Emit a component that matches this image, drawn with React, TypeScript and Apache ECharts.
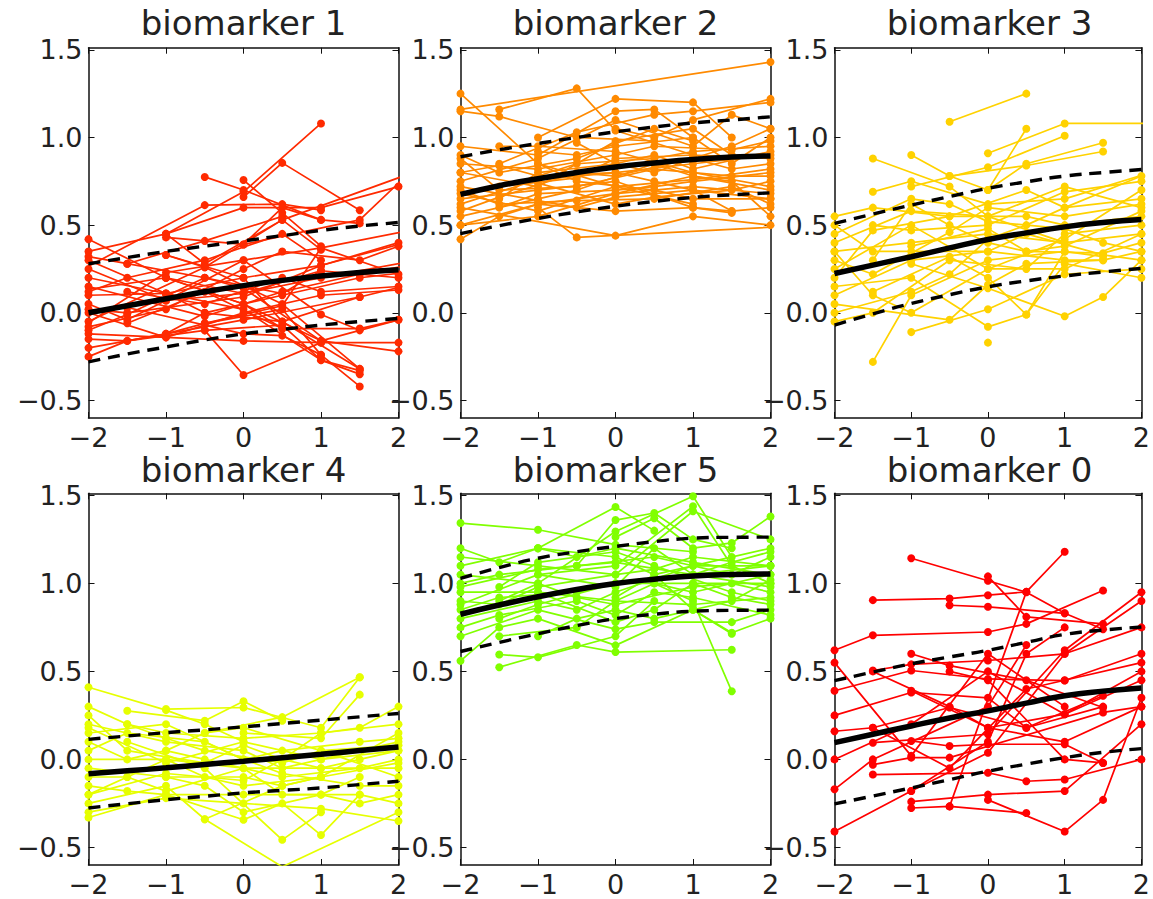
import React, { useEffect, useRef } from "react";
import * as echarts from "echarts";

// Shared axis ticks
const xTicks = [-2, -1, 0, 1, 2];
const yTicks = [-0.5, 0, 0.5, 1, 1.5];
const fitX = [-2, -1.5, -1, -0.5, 0, 0.5, 1, 1.5, 2];

// biomarker 1
const bm1Tracks: number[][][] = [
  [[-2.5, 0.15], [-0.5, 0.614], [0.5, 0.62], [1, 0.585]],
  [[0, 0.66], [0.5, 0.855], [1.5, 0.585]],
  [[-0.5, 0.775], [0, 0.7], [1, 0.53], [1.5, 0.51]],
  [[0, 0.757], [0.5, 0.57], [1, 0.38]],
  [[-1, 0.45], [0, 0.69], [1, 1.08]],
  [[-2, 0.42], [-1, 0.2], [0, 0.05], [0.5, -0.09]],
  [[-2, 0.32], [-1.5, 0.28], [-0.5, 0.41], [0.5, 0.55]],
  [[-1, 0.43], [0, 0.39], [1.5, 0.53], [2.5, 0.95]],
  [[-1, 0.33], [-0.5, 0.26], [0.5, 0.53], [2.5, 0.85]],
  [[-2.5, -0.2], [-1, 0.23], [0, 0.3], [1, 0.37], [2.5, 0.5]],
  [[-2, 0.1], [-1, 0.11], [0, 0.2], [1, 0.27], [2, 0.4]],
  [[-2, -0.1], [-1.5, -0.01], [-0.5, 0.2], [0.5, 0.11], [1, 0.24]],
  [[-2, 0.05], [-1.5, -0.04], [-1, 0.07], [0, 0.11], [1, 0.2], [2.5, 0.32]],
  [[-2, -0.15], [-1.5, -0.16], [-1, -0.12], [0, -0.04], [1.5, 0.09], [2.5, 0.2]],
  [[-2, 0.0], [-1, -0.14], [0, -0.16], [1, -0.17], [2, -0.17]],
  [[-0.5, -0.1], [0, -0.355], [1, -0.17]],
  [[-1, -0.12], [-0.5, -0.06], [0.5, 0.02], [1, -0.24], [1.5, -0.42]],
  [[-2, 0.2], [-1, 0.11], [0, 0.02], [1, -0.27], [1.5, -0.35]],
  [[-2, -0.05], [-0.5, 0.26], [0.5, 0.05], [1.5, -0.32]],
  [[-1.5, -0.06], [-0.5, 0.12], [0.5, -0.09], [1.5, -0.09], [2, -0.04]],
  [[-2, 0.25], [-1, 0.07], [0, 0.3], [1, -0.01], [1.5, -0.1]],
  [[-2.5, 0.1], [-1, 0.2], [0, 0.11], [1, 0.24], [2, 0.2]],
  [[-2, -0.2], [-1, -0.12], [-0.5, 0.0], [0.5, 0.1], [1.5, 0.2], [2.5, 0.25]],
  [[-2, 0.15], [-0.5, -0.02], [0.5, 0.12], [1.5, 0.22], [2.5, 0.3]],
  [[-2, 0.02], [-1.5, 0.0], [0, 0.09], [1, 0.27], [2.5, 0.45]],
  [[0, 0.39], [0.5, 0.6], [1, 0.53]],
  [[-1, 0.45], [-0.5, 0.28], [0.5, 0.53], [1, 0.36]],
  [[-2, -0.12], [-1, -0.14], [0, 0.0], [1, 0.1], [2, 0.13]],
  [[-0.5, -0.06], [0.5, 0.04], [1, 0.37], [2, 0.22]],
  [[-1.5, 0.28], [-0.5, 0.2], [0, 0.14], [1, -0.16], [2, -0.04]],
  [[-1, 0.33], [0, 0.2], [0.5, -0.05], [1.5, 0.09]],
  [[-2, -0.25], [-1.5, -0.16], [-0.5, -0.1], [0.5, -0.07], [1, -0.27], [1.5, -0.33]],
  [[-2, 0.3], [-1, 0.11], [-0.5, 0.0], [0.5, -0.05], [1.5, -0.32]],
  [[-1, 0.2], [0, 0.05], [1, -0.16], [2, -0.22]],
  [[-1.5, 0.03], [0, -0.12], [0.5, -0.13], [1, -0.24]],
  [[-2, 0.35], [-1, 0.45], [0, 0.6], [1, 0.6], [2, 0.72]],
  [[-2, -0.08], [-1, 0.02], [0, 0.25], [0.5, 0.35], [1.5, 0.3], [2, 0.38]],
  [[-1.5, 0.12], [-0.5, 0.05], [0.5, 0.2], [1, 0.12], [2, 0.15]],
  [[-2, 0.12], [-1.5, 0.2], [-0.5, 0.3], [0.5, 0.45], [1, 0.3]],
];
const bm1Mean = [0.0, 0.04, 0.08, 0.12, 0.155, 0.185, 0.21, 0.23, 0.245];
const bm1Upper = [0.28, 0.315, 0.35, 0.38, 0.41, 0.44, 0.47, 0.495, 0.515];
const bm1Lower = [-0.28, -0.235, -0.195, -0.155, -0.12, -0.095, -0.07, -0.05, -0.032];

// biomarker 2
const bm2Tracks: number[][][] = [
  [[-2, 1.16], [2, 1.43]],
  [[-1.5, 1.16], [-0.5, 1.28], [0, 1.04], [1, 0.9]],
  [[-2, 1.25], [-1, 0.85], [0, 0.72], [1, 0.62]],
  [[-2, 1.15], [-1.5, 1.12], [-0.5, 1.0], [0.5, 0.98]],
  [[-1, 1.0], [0, 1.22], [1, 1.2], [1.5, 1.0]],
  [[-2, 0.95], [-1, 0.9], [0, 1.15], [0.5, 1.16], [1, 1.0]],
  [[-1.5, 0.85], [-0.5, 1.03], [0.5, 1.13], [1, 1.15], [2, 1.2]],
  [[-2, 0.75], [-1, 0.88], [0, 1.1], [1, 0.95], [1.5, 1.13], [2, 1.05]],
  [[-1, 0.6], [-0.5, 0.43], [2.5, 0.5]],
  [[-2, 0.6], [0, 0.44], [1, 0.55], [2, 0.5]],
  [[-2, 0.42], [-1.5, 0.55], [-1, 0.62], [0, 0.58], [1, 0.6], [1.5, 0.57]],
  [[-2, 0.65], [-1, 0.7], [0, 0.75], [1, 0.6], [1.5, 0.58]],
  [[-2, 0.7], [-1.5, 0.62], [-0.5, 0.64], [0.5, 0.65], [1.5, 0.72], [2, 0.62]],
  [[-2, 0.55], [-1, 0.65], [-0.5, 0.7], [0.5, 0.85], [1, 0.78], [2, 0.7]],
  [[-2, 0.8], [-1.5, 0.84], [-1, 0.78], [0, 0.8], [1, 0.85], [2, 0.9]],
  [[-2, 0.85], [-1, 0.82], [0, 0.9], [0.5, 0.95], [1.5, 0.93], [2, 0.98]],
  [[-1.5, 0.6], [-1, 0.68], [0, 0.7], [0.5, 0.72], [1, 0.75], [2, 0.8]],
  [[-2, 0.5], [-1, 0.55], [0, 0.68], [1, 0.78], [1.5, 0.75], [2, 0.55]],
  [[-1.5, 0.72], [-0.5, 0.77], [0, 0.88], [1, 0.9], [2, 0.88]],
  [[-2, 0.62], [-1, 0.76], [0, 0.8], [0.5, 0.75], [1, 0.7], [2, 0.65]],
  [[-1, 0.92], [-0.5, 0.9], [0, 0.95], [1, 1.0], [1.5, 0.85], [2, 1.0]],
  [[-2, 0.9], [-1.5, 0.8], [-0.5, 0.88], [0.5, 1.05], [1, 0.98]],
  [[-1, 0.74], [0, 0.62], [0.5, 0.66], [1.5, 0.7], [2, 0.75]],
  [[-2, 0.72], [-1, 0.64], [-0.5, 0.6], [0, 0.66], [1, 0.7], [1.5, 0.58], [2, 0.6]],
  [[-1.5, 0.65], [-1, 0.8], [0, 0.85], [0.5, 0.9], [1, 0.82], [2, 0.92]],
  [[-2, 0.58], [-1.5, 0.66], [-0.5, 0.8], [0, 0.78], [1, 0.88], [1.5, 0.95], [2, 1.05]],
  [[0, 1.05], [0.5, 1.0], [1, 1.1], [2, 1.22]],
  [[-1.5, 0.95], [-1, 0.95], [0, 0.92], [1, 0.8], [2, 0.72]],
  [[-2, 0.68], [-1, 0.58], [0, 0.72], [1, 0.76], [2, 0.82]],
  [[-0.5, 0.97], [0, 0.85], [0.5, 0.8], [1, 0.88], [1.5, 0.82], [2, 0.85]],
  [[-1, 0.85], [-0.5, 0.75], [0.5, 0.7], [1, 0.65], [2, 0.65]],
  [[-2, 0.8], [-1, 0.72], [0, 0.98], [1, 1.05], [1.5, 0.9]],
  [[-2, 0.88], [-1.5, 0.7], [-0.5, 0.72], [0.5, 0.82], [1.5, 0.78], [2, 0.78]],
  [[-1, 0.78], [-0.5, 0.85], [0.5, 0.88], [1, 0.92], [2, 0.95]],
  [[-2, 0.5], [-1, 0.62], [0, 0.68], [1, 0.72], [2, 0.68]],
];
const bm2Mean = [0.675, 0.725, 0.765, 0.8, 0.832, 0.855, 0.875, 0.888, 0.895];
const bm2Upper = [0.89, 0.93, 0.966, 1.0, 1.032, 1.06, 1.083, 1.1, 1.118];
const bm2Lower = [0.452, 0.497, 0.538, 0.575, 0.608, 0.635, 0.658, 0.673, 0.684];

// biomarker 3
const bm3Tracks: number[][][] = [
  [[-0.5, 1.09], [0.5, 1.25]],
  [[-1.5, 0.88], [-0.5, 0.72], [0, 0.55], [1, 0.4]],
  [[-1, 0.9], [-0.5, 0.78], [0, 0.7], [0.5, 1.05]],
  [[0, 0.91], [1, 1.08], [2.5, 1.08]],
  [[-1, 0.72], [0, 0.83], [1, 1.01]],
  [[0, 0.7], [0.5, 0.85], [1.5, 0.97]],
  [[-0.5, 0.78], [0.5, 0.84], [1.5, 0.92]],
  [[-1.5, 0.69], [-1, 0.75], [0, 0.62], [1, 0.65], [2.5, 0.85]],
  [[-2, 0.4], [-1, 0.58], [0, 0.55], [1, 0.72], [2, 0.6]],
  [[-1.5, 0.5], [-1, 0.47], [0, 0.5], [1, 0.69], [2, 0.75]],
  [[-2, 0.2], [-1.5, 0.47], [-0.5, 0.55], [0.5, 0.55], [1, 0.5], [2, 0.55]],
  [[-2, 0.35], [-1, 0.4], [0, 0.45], [1, 0.4], [2, 0.45]],
  [[-1.5, -0.28], [-1, 0.1], [0, 0.3], [1, 0.35], [1.5, 0.32]],
  [[-1, -0.11], [0, 0.02], [1, 0.22], [2, 0.25]],
  [[-2, 0.05], [-0.5, -0.04], [0, 0.16], [0.5, 0.28], [1.5, 0.3]],
  [[-2, 0.15], [-1, 0.2], [0, -0.08], [0.5, -0.01], [1, 0.35]],
  [[-1, 0.28], [0, 0.14], [1, -0.02], [1.5, 0.09], [2, 0.3]],
  [[-2, -0.05], [-1.5, 0.0], [-0.5, 0.3], [0.5, 0.25], [1, 0.45], [2, 0.5]],
  [[-2, 0.5], [-1.5, 0.35], [-1, 0.35], [0, 0.35], [1, 0.3], [1.5, 0.3], [2, 0.35]],
  [[-2, 0.3], [-1.5, 0.22], [-0.5, 0.46], [0, 0.6], [1, 0.55], [2, 0.62]],
  [[-2, 0.0], [-1, 0.12], [-0.5, 0.22], [0, 0.42], [0.5, 0.5], [1, 0.6], [2, 0.78]],
  [[-1.5, 0.3], [-1, 0.62], [-0.5, 0.5], [0, 0.4], [0.5, 0.35], [1.5, 0.34], [2, 0.4]],
  [[-2, 0.25], [-1, 0.5], [0, 0.25], [1, 0.42], [2, 0.7]],
  [[-1.5, 0.12], [-0.5, 0.32], [0, 0.2], [0.5, -0.01], [1, 0.28], [2, 0.2]],
  [[-2, 0.45], [-1, 0.65], [-0.5, 0.62], [0, 0.52], [1, 0.48], [1.5, 0.4], [2, 0.35]],
  [[-2, 0.1], [-1, 0.3], [0, 0.35], [0.5, 0.45], [1.5, 0.33], [2, 0.3]],
  [[-2, 0.55], [-1.5, 0.6], [-0.5, 0.55], [0.5, 0.7], [1, 0.6], [2, 0.65]],
  [[-1, 0.38], [0, 0.48], [0.5, 0.35], [1, 0.38], [2, 0.58]],
  [[0, -0.17]],
  [[-2, 0.35], [-1.5, 0.1], [-1, 0.0], [0, 0.25], [1, 0.25], [2, 0.45]],
];
const bm3Mean = [0.224, 0.272, 0.32, 0.37, 0.418, 0.456, 0.49, 0.515, 0.532];
const bm3Upper = [0.51, 0.563, 0.614, 0.663, 0.71, 0.747, 0.78, 0.8, 0.817];
const bm3Lower = [-0.07, -0.006, 0.053, 0.103, 0.148, 0.182, 0.21, 0.233, 0.253];

// biomarker 4
const bm4Tracks: number[][][] = [
  [[-2, 0.41], [-1, 0.28], [-0.5, 0.2], [0, 0.1]],
  [[-1.5, 0.276], [-0.5, 0.22], [0, 0.33], [0.5, 0.22]],
  [[-1, 0.286], [0, 0.295], [1, 0.18], [1.5, 0.467]],
  [[-0.5, 0.15], [0.5, 0.24], [1.5, 0.467]],
  [[0, 0.15], [1, 0.12], [1.5, 0.368]],
  [[-2, 0.3], [-1.5, 0.2], [-1, 0.15], [0, 0.12], [1, 0.15], [1.5, 0.18], [2, 0.3]],
  [[-2, 0.2], [-1, 0.1], [0, 0.05], [0.5, -0.05], [1, 0.0], [2, 0.1]],
  [[-2, 0.1], [-1.5, 0.0], [-1, 0.05], [-0.5, 0.0], [0.5, -0.1], [1.5, -0.05], [2, 0.0]],
  [[-2, -0.05], [-1, -0.1], [0, -0.1], [0.5, -0.15], [1, -0.1], [2, 0.15]],
  [[-2, -0.15], [-1.5, -0.18], [-1, -0.2], [0, -0.2], [1, -0.2], [1.5, -0.25], [2, -0.2]],
  [[-2, -0.25], [-1, -0.15], [-0.5, -0.34], [0.5, -0.15], [1, -0.1]],
  [[-0.5, -0.34], [0.5, -0.61], [2, -0.3]],
  [[-2, -0.33], [-1, -0.2], [0, -0.343], [0.5, -0.25], [1, -0.43], [1.5, -0.2]],
  [[-1.5, 0.1], [-0.5, -0.05], [0.5, -0.457], [1, -0.3]],
  [[-2, 0.0], [-1, 0.0], [0, -0.05], [1, -0.05], [2, -0.05]],
  [[-2, 0.05], [-1.5, 0.15], [-0.5, 0.1], [0, 0.0], [0.5, 0.05], [1.5, 0.1], [2, 0.12]],
  [[-2, -0.1], [-1.5, -0.1], [-1, 0.0], [-0.5, -0.1], [0, -0.15], [1, -0.1], [2, -0.02]],
  [[-1, 0.05], [-0.5, 0.15], [0, 0.18], [1, 0.05], [2, 0.08]],
  [[-2, 0.15], [-1, 0.2], [0, 0.0], [0.5, -0.08], [1.5, -0.15], [2, -0.15]],
  [[-2, -0.2], [-1, -0.08], [0, -0.12], [0.5, 0.0], [1, -0.05], [1.5, 0.0], [2, 0.05]],
  [[-1.5, 0.2], [-1, 0.12], [-0.5, 0.05], [0.5, -0.02], [1, 0.05], [2, -0.1]],
  [[-2, 0.25], [-1.5, 0.05], [-0.5, -0.02], [0, 0.08], [0.5, 0.0], [1, 0.15], [2, 0.2]],
  [[-1, -0.1], [-0.5, -0.15], [0, -0.3], [1, -0.2], [1.5, -0.1]],
  [[-2, -0.2], [-1.5, -0.1], [-1, -0.18], [0, -0.05], [0.5, -0.2], [1.5, -0.2], [2, -0.25]],
  [[-2, -0.3], [-1, -0.22], [0, -0.25], [1, -0.28], [2, -0.35]],
  [[-2, 0.18], [-1, -0.02], [0, 0.1], [1, 0.0], [2, 0.05]],
];
const bm4Mean = [-0.082, -0.065, -0.048, -0.029, -0.01, 0.01, 0.029, 0.05, 0.07];
const bm4Upper = [0.114, 0.133, 0.152, 0.168, 0.185, 0.204, 0.223, 0.242, 0.261];
const bm4Lower = [-0.276, -0.252, -0.229, -0.21, -0.19, -0.176, -0.162, -0.143, -0.124];

// biomarker 5
const bm5Tracks: number[][][] = [
  [[-2, 1.343], [-1, 1.305], [0, 1.22], [1, 1.18]],
  [[-1, 1.2], [0, 1.434], [0.5, 1.3]],
  [[-0.5, 1.1], [0, 1.36], [0.5, 1.4], [1, 1.25], [1.5, 1.2]],
  [[-1.5, 0.9], [-1, 1.0], [0, 1.295], [1, 1.495], [1.5, 1.15]],
  [[0, 1.263], [0.5, 1.37], [1, 1.2], [1.5, 1.23], [2, 1.38]],
  [[-1, 1.05], [0, 1.1], [1, 1.438], [1.5, 1.1], [2, 1.0]],
  [[-2, 1.15], [-1, 1.1], [0, 1.05], [1, 1.41], [2, 1.25]],
  [[-1.5, 0.596], [-1, 0.58], [0, 0.7], [0.5, 0.9]],
  [[-1.5, 0.524], [-0.5, 0.65], [0, 0.61], [1.5, 0.623]],
  [[0.5, 1.0], [1, 0.9], [1.5, 0.387]],
  [[-2, 0.56], [-1.5, 0.75], [-1, 0.8], [0, 0.648], [1, 0.85], [1.5, 0.714]],
  [[-2, 0.7], [-1, 0.85], [0, 0.74], [0.5, 0.78], [1.5, 0.78], [2, 0.85]],
  [[-2, 0.85], [-1.5, 0.92], [-0.5, 0.95], [0, 1.0], [1, 1.05], [2, 1.1]],
  [[-2, 0.95], [-1, 0.95], [0, 0.9], [0.5, 1.0], [1, 0.95], [2, 1.05]],
  [[-2, 1.0], [-1.5, 1.05], [-0.5, 1.1], [0.5, 1.15], [1.5, 1.05], [2, 1.15]],
  [[-2, 0.8], [-1, 0.9], [-0.5, 0.85], [0, 0.95], [1, 1.1], [2, 1.2]],
  [[-1.5, 0.98], [-1, 1.12], [0, 1.18], [0.5, 1.1], [1.5, 0.95], [2, 0.9]],
  [[-2, 0.9], [-1.5, 0.88], [-1, 0.98], [0, 1.05], [0.5, 1.08], [1, 1.15], [2, 1.1]],
  [[-2, 1.05], [-1, 1.0], [-0.5, 0.92], [0, 0.88], [1, 0.98], [1.5, 1.0], [2, 0.95]],
  [[-2, 0.75], [-1.5, 0.82], [-0.5, 0.9], [0, 0.82], [0.5, 0.95], [1, 0.92], [2, 0.82]],
  [[-1, 0.7], [-0.5, 0.8], [0, 0.85], [0.5, 0.8], [1.5, 0.9], [2, 1.02]],
  [[-2, 1.1], [-1, 1.2], [0, 1.15], [0.5, 1.05], [1, 1.1], [2, 1.1]],
  [[-1.5, 0.8], [-1, 0.88], [0, 1.0], [1, 1.0], [1.5, 0.92], [2, 0.88]],
  [[-2, 0.88], [-1, 1.05], [0, 0.98], [0.5, 1.2], [1, 1.05], [1.5, 1.12], [2, 1.18]],
  [[-2, 1.2], [-1.5, 1.12], [-1, 1.2], [-0.5, 1.15], [0, 1.2], [1, 1.12], [2, 1.05]],
  [[0, 0.92], [0.5, 1.05], [1, 0.85], [1.5, 0.72], [2, 0.8]],
  [[-1, 0.95], [0, 0.78], [0.5, 0.85], [1, 1.0], [2, 1.0]],
  [[-2, 0.98], [-1, 1.08], [0, 1.12], [1, 1.05], [2, 0.98]],
  [[-1.5, 0.7], [-0.5, 0.75], [0, 0.9], [1, 0.88], [2, 0.92]],
];
const bm5Mean = [0.825, 0.877, 0.924, 0.965, 1.0, 1.024, 1.042, 1.05, 1.053];
const bm5Upper = [1.029, 1.09, 1.143, 1.18, 1.21, 1.237, 1.257, 1.262, 1.263];
const bm5Lower = [0.613, 0.665, 0.714, 0.76, 0.8, 0.825, 0.842, 0.847, 0.848];

// biomarker 0
const bm0Tracks: number[][][] = [
  [[-1, 1.143], [0, 1.015], [0.5, 0.95], [1, 0.83]],
  [[-0.5, -0.267], [0.5, 0.952], [1, 1.18]],
  [[-1.5, 0.905], [-0.5, 0.914], [0, 0.933], [0.5, 0.952]],
  [[-0.5, 0.876], [0, 0.867], [1, 0.83], [1.5, 0.74]],
  [[0, 1.04], [0.5, 0.81], [1.5, 0.77]],
  [[-2, 0.62], [-1.5, 0.705], [0, 0.724], [0.5, 0.77], [1.5, 0.96]],
  [[-1.5, 0.505], [-1, 0.54], [0, 0.562], [1, 0.6], [2, 0.75]],
  [[-1, 0.6], [-0.5, 0.533], [0.5, 0.45], [1.5, 0.295]],
  [[-2, 0.39], [-1, 0.505], [0, 0.457], [1, 0.448], [2, 0.6]],
  [[-1, 0.39], [0, 0.18], [1, 0.257], [2, 0.5]],
  [[-2, 0.16], [-1.5, 0.18], [-0.5, 0.295], [0.5, 0.18], [1.5, 0.362]],
  [[-1.5, 0.095], [0, 0.143], [1, 0.62], [2, 0.95]],
  [[-1, 0.105], [-0.5, 0.076], [0, 0.086], [1, 0.086], [1.5, -0.02]],
  [[-2, -0.41], [-1, -0.18], [0, 0.038], [1, 0.6], [2, 0.9]],
  [[-1.5, -0.03], [-1, 0.01], [-0.5, 0.01], [1.5, 0.267], [2, 0.3]],
  [[-1.5, -0.086], [0, -0.076], [0.5, -0.124], [1, -0.114], [2, 0.0]],
  [[-1, -0.24], [0, -0.2], [1, -0.18], [2, 0.2]],
  [[-1, -0.276], [-0.5, -0.267], [0.5, -0.305]],
  [[0, -0.23], [1, -0.41], [1.5, -0.23], [2, 0.35]],
  [[-2, -0.17], [-1.5, 0.0], [0, 0.3], [0.5, 0.65]],
  [[-2, 0.0], [-1, 0.2], [0, 0.5], [1, 0.257], [2, 0.45]],
  [[-2, 0.25], [-1, 0.38], [0, 0.35], [0.5, 0.18], [1.5, 0.3]],
  [[-1.5, 0.18], [-0.5, -0.05], [0.5, 0.4], [1, 0.45], [2, 0.55]],
  [[-2, 0.55], [-1, 0.02], [0, 0.6], [1, 0.3]],
  [[-0.5, 0.5], [0, 0.45], [1, 0.0], [1.5, -0.02]],
  [[-1, -0.18], [0, 0.1], [0.5, 0.6], [1, 0.75]],
  [[-1.5, 0.5], [-0.5, 0.3], [0, 0.18], [1, 0.1], [2, 0.3]],
];
const bm0Mean = [0.095, 0.143, 0.19, 0.235, 0.276, 0.32, 0.362, 0.388, 0.406];
const bm0Upper = [0.448, 0.496, 0.543, 0.582, 0.62, 0.665, 0.71, 0.735, 0.752];
const bm0Lower = [-0.253, -0.208, -0.162, -0.115, -0.067, -0.027, 0.01, 0.04, 0.061];

const panels = [
  { title: "biomarker 1", color: "#ff2a00", tracks: bm1Tracks, mean: bm1Mean, upper: bm1Upper, lower: bm1Lower },
  { title: "biomarker 2", color: "#ff8a00", tracks: bm2Tracks, mean: bm2Mean, upper: bm2Upper, lower: bm2Lower },
  { title: "biomarker 3", color: "#ffd200", tracks: bm3Tracks, mean: bm3Mean, upper: bm3Upper, lower: bm3Lower },
  { title: "biomarker 4", color: "#e6ff00", tracks: bm4Tracks, mean: bm4Mean, upper: bm4Upper, lower: bm4Lower },
  { title: "biomarker 5", color: "#80ff00", tracks: bm5Tracks, mean: bm5Mean, upper: bm5Upper, lower: bm5Lower },
  { title: "biomarker 0", color: "#ff0000", tracks: bm0Tracks, mean: bm0Mean, upper: bm0Upper, lower: bm0Lower },
];

const FONT = "'DejaVu Sans', sans-serif";
const LEFTS = [88.5, 460.5, 834.5];
const TOPS = [47.7, 493.3];
const HEIGHTS = [370.3, 371.7];
const WIDTH = 310;
const TITLE_Y = [23, 470];

function buildOption() {
  const grid: any[] = [];
  const xAxis: any[] = [];
  const yAxis: any[] = [];
  const series: any[] = [];
  const graphic: any[] = [];

  const axisLine = { show: true, onZero: false, lineStyle: { color: "#111", width: 1.5 } };
  const tick = { show: true, inside: true, length: 6, lineStyle: { color: "#111", width: 1 } };

  panels.forEach((p, i) => {
    const row = Math.floor(i / 3);
    const col = i % 3;
    grid.push({ left: LEFTS[col], top: TOPS[row], width: WIDTH, height: HEIGHTS[row], containLabel: false });

    xAxis.push({
      type: "value", gridIndex: i, position: "bottom", min: -2, max: 2, interval: 1,
      axisLine, axisTick: { ...tick, customValues: xTicks }, splitLine: { show: false },
      axisLabel: {
        customValues: xTicks, margin: 6, color: "#222", fontFamily: FONT, fontSize: 27, lineHeight: 26,
        formatter: (v: number) => (v < 0 ? "\u2212" : "") + Math.abs(v).toFixed(0),
      },
    });
    xAxis.push({
      type: "value", gridIndex: i, position: "top", min: -2, max: 2, interval: 1,
      axisLine, axisTick: { ...tick, customValues: xTicks }, splitLine: { show: false },
      axisLabel: { show: false },
    });
    yAxis.push({
      type: "value", gridIndex: i, position: "left", min: -0.6, max: 1.512,
      axisLine, axisTick: { ...tick, customValues: yTicks }, splitLine: { show: false },
      axisLabel: {
        customValues: yTicks, margin: 6, color: "#222", fontFamily: FONT, fontSize: 27,
        formatter: (v: number) => (v < 0 ? "\u2212" : "") + Math.abs(v).toFixed(1),
      },
    });
    yAxis.push({
      type: "value", gridIndex: i, position: "right", min: -0.6, max: 1.512,
      axisLine, axisTick: { ...tick, customValues: yTicks }, splitLine: { show: false },
      axisLabel: { show: false },
    });

    const xi = 2 * i;
    const yi = 2 * i;
    p.tracks.forEach((t) => {
      series.push({
        type: "line", xAxisIndex: xi, yAxisIndex: yi, data: t, clip: true,
        symbol: "circle", symbolSize: 8, showSymbol: true, silent: true, z: 2,
        lineStyle: { color: p.color, width: 1.7 }, itemStyle: { color: p.color },
        emphasis: { disabled: true },
      });
    });
    const curve = (vals: number[], dashed: boolean) => ({
      type: "line", xAxisIndex: xi, yAxisIndex: yi, clip: true,
      data: fitX.map((x, k) => [x, vals[k]]), smooth: true, symbol: "none", silent: true, z: 5,
      lineStyle: dashed ? { color: "#000", width: 3.4, type: [12, 8] } : { color: "#000", width: 5.5 },
      emphasis: { disabled: true },
    });
    series.push(curve(p.mean, false), curve(p.upper, true), curve(p.lower, true));

    graphic.push({
      type: "text", x: LEFTS[col] + WIDTH / 2, y: TITLE_Y[row], silent: true,
      style: { text: p.title, font: `34px ${FONT}`, fill: "#222", align: "center", verticalAlign: "middle", textAlign: "center", textVerticalAlign: "middle" },
    });
  });

  return { animation: false, backgroundColor: "#fff", grid, xAxis, yAxis, series, graphic };
}

export default function App() {
  const ref = useRef<HTMLDivElement>(null);
  useEffect(() => {
    if (!ref.current) return;
    const chart = echarts.init(ref.current, undefined, { renderer: "svg" });
    chart.setOption(buildOption() as any);
    return () => chart.dispose();
  }, []);
  return <div ref={ref} style={{ position: "fixed", left: 0, top: 0, width: 1153, height: 899, background: "#fff" }} />;
}
